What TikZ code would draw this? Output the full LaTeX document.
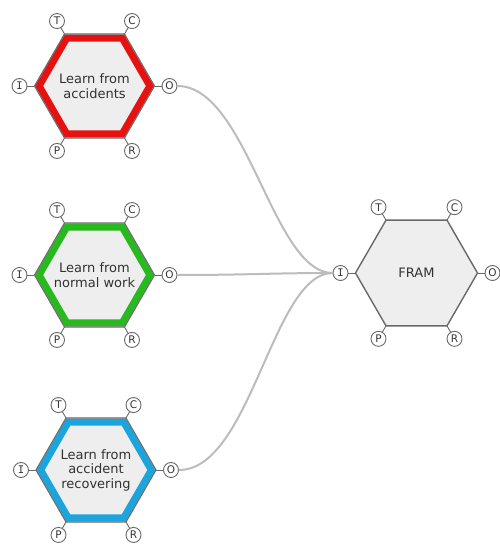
\documentclass[tikz,border=0pt]{standalone}
\usepackage{fontspec}
\setmainfont{DejaVu Sans}
\newfontfamily\portmono{DejaVu Sans Mono}
\usetikzlibrary{shapes.geometric,calc}
\definecolor{hexred}{RGB}{230,18,18}
\definecolor{hexgreen}{RGB}{40,185,30}
\definecolor{hexblue}{RGB}{28,165,220}
\definecolor{hexfillc}{RGB}{238,238,238}
\definecolor{edgegray}{RGB}{105,105,105}
\definecolor{conngray}{RGB}{188,188,188}
\definecolor{textgray}{RGB}{50,50,50}
\begin{document}
\begin{tikzpicture}[x=1pt,y=1pt,
  hexbase/.style={regular polygon, regular polygon sides=6, minimum size=#1, inner sep=0pt, outer sep=0pt},
  hexfill/.style={hexbase=#1, fill=hexfillc},
  hexband/.style={hexbase=110.8pt, draw=#1, line width=7pt},
  hexline/.style={hexbase=#1, draw=edgegray, line width=1.1pt},
  hextext/.style={text=textgray, align=center, inner sep=0pt, font=\fontsize{13}{14.5}\selectfont},
  port/.style={circle, draw=edgegray, fill=white, line width=0.9pt, minimum size=15pt,
    inner sep=0pt, font=\fontsize{10.5}{10.5}\selectfont, text=black!80},
  stub/.style={draw=edgegray, line width=0.9pt},
  conn/.style={draw=conngray, line width=2pt}]
\useasboundingbox (0,0) rectangle (499,547);

% hexagon 1 (red)
\node[hexfill=120pt] (h1f) at (94.5,461) {};
\node[hexband=hexred] (h1b) at (h1f) {};
\node[hexline=120pt] (h1) at (h1f) {};
\node[hextext] (h1t) at (h1) {Learn from\\accidents};
% hexagon 2 (green)
\node[hexfill=120pt] (h2f) at (94.5,272) {};
\node[hexband=hexgreen] (h2b) at (h2f) {};
\node[hexline=120pt] (h2) at (h2f) {};
\node[hextext] (h2t) at (h2) {Learn from\\normal work};
% hexagon 3 (blue)
\node[hexfill=120pt] (h3f) at (96,77) {};
\node[hexband=hexblue] (h3b) at (h3f) {};
\node[hexline=120pt] (h3) at (h3f) {};
\node[hextext] (h3t) at (h3) {Learn from\\accident\\recovering};
% FRAM
\node[hexfill=122pt, draw=edgegray, line width=1.4pt] (fr) at (416.5,274) {};
\node[hextext] (frt) at (fr) {FRAM};

% ports
\foreach \h/\d in {h1/75,h2/75,h3/75,fr/76}{
  \foreach \n/\a in {T/120,C/60,O/0,P/240,R/300}{
    \draw[stub] (\h.\a) -- ($(\h)+(\a:\d)$);
    \node[port] (\h\n) at ($(\h)+(\a:\d)$) {\n};
  }
  \draw[stub] (\h.180) -- ($(\h)+(180:\d)$);
  \node[port, font=\portmono\fontsize{10.5}{10.5}\selectfont] (\h I) at ($(\h)+(180:\d)$) {I};
}

% connectors
\draw[conn] (h1O.east) .. controls +(70,0) and +(-60,0) .. (frI.west);
\draw[conn] (h2O.east) .. controls +(70,0) and +(-60,0) .. (frI.west);
\draw[conn] (h3O.east) .. controls +(72,0) and +(-60,0) .. (frI.west);
\end{tikzpicture}
\end{document}
